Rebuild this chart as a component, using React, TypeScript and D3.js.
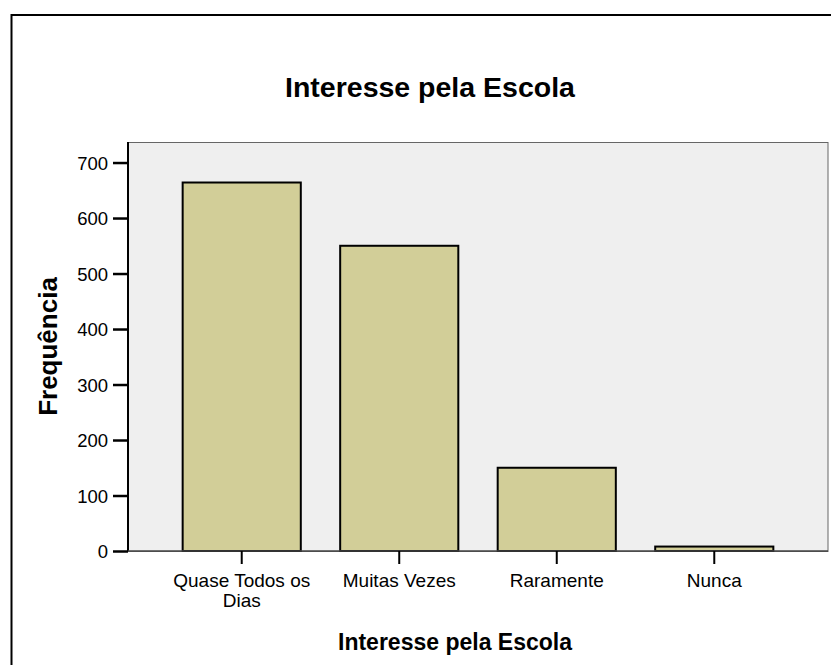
import React, { useRef, useEffect } from 'react';
import * as d3 from 'd3';

// chart data
const categories = ['Quase Todos os Dias', 'Muitas Vezes', 'Raramente', 'Nunca'];
const frequencies = [664, 550, 150, 8];
const yTicks = [0, 100, 200, 300, 400, 500, 600, 700];
const chartTitle = 'Interesse pela Escola';
const xTitle = 'Interesse pela Escola';
const yTitle = 'Frequência';

const FONT = '"Liberation Sans", Arial, Helvetica, sans-serif';

const App: React.FC = () => {
  const svgRef = useRef<SVGSVGElement>(null);
  const width = 831;
  const height = 665;

  useEffect(() => {
    if (!svgRef.current) return;
    const svg = d3.select(svgRef.current);
    svg.selectAll('*').remove();

    const plot = { left: 128, right: 828, top: 142, bottom: 551 };

    const x = d3.scaleBand<string>()
      .domain(categories)
      .range([plot.left, plot.right])
      .paddingInner(0.25)
      .paddingOuter(0.347);

    const y = d3.scaleLinear()
      .domain([0, 737])
      .range([plot.bottom, plot.top]);

    // outer frame (runs off the right and bottom of the picture)
    svg.append('rect')
      .attr('x', 11.5)
      .attr('y', 15)
      .attr('width', 1000)
      .attr('height', 1000)
      .attr('fill', 'none')
      .attr('stroke', '#000')
      .attr('stroke-width', 2);

    // title
    svg.append('text')
      .attr('x', 430)
      .attr('y', 97)
      .attr('text-anchor', 'middle')
      .attr('font-family', FONT)
      .attr('font-weight', 'bold')
      .attr('font-size', 28.5)
      .text(chartTitle);

    // plot background
    svg.append('rect')
      .attr('x', plot.left)
      .attr('y', plot.top + 0.5)
      .attr('width', plot.right - plot.left)
      .attr('height', plot.bottom - plot.top)
      .attr('fill', '#efefef')
      .attr('stroke', '#666')
      .attr('stroke-width', 1);

    // bars
    svg.selectAll('.bar')
      .data(categories)
      .enter()
      .append('rect')
      .attr('class', 'bar')
      .attr('x', d => x(d)!)
      .attr('y', (d, i) => y(frequencies[i]))
      .attr('width', x.bandwidth())
      .attr('height', (d, i) => plot.bottom - y(frequencies[i]))
      .attr('fill', '#d2ce98')
      .attr('stroke', '#000')
      .attr('stroke-width', 2);

    // y axis
    const yAxis = svg.append('g').attr('transform', `translate(${plot.left},0)`)
      .call(d3.axisLeft(y).tickValues(yTicks).tickSize(15).tickPadding(5).tickFormat(d3.format('d')));
    yAxis.select('.domain').attr('stroke', '#000').attr('stroke-width', 2)
      .attr('d', `M0,${plot.top}V${plot.bottom}`);
    yAxis.selectAll('.tick line').attr('stroke', '#000').attr('stroke-width', 2.5);
    yAxis.selectAll('.tick text')
      .attr('font-family', FONT)
      .attr('font-size', 18.5)
      .attr('fill', '#000')
      .attr('dy', '0.36em');

    // x axis
    const xAxis = svg.append('g').attr('transform', `translate(0,${plot.bottom})`)
      .call(d3.axisBottom(x).tickSize(13).tickPadding(5));
    xAxis.select('.domain').attr('stroke', '#444').attr('stroke-width', 1.5)
      .attr('d', `M${plot.left},0H${plot.right}`);
    xAxis.selectAll('.tick line').attr('stroke', '#000').attr('stroke-width', 2);
    xAxis.selectAll<SVGTextElement, string>('.tick text')
      .attr('font-family', FONT)
      .attr('font-size', 19)
      .attr('fill', '#000')
      .attr('y', 0)
      .attr('dy', 0)
      .each(function (d) {
        // wrap long labels onto a second line
        const text = d3.select(this);
        const words = d.split(' ');
        text.text(null);
        let line: string[] = [];
        let lineNo = 0;
        let tspan = text.append('tspan').attr('x', 0).attr('y', 36);
        words.forEach(w => {
          line.push(w);
          tspan.text(line.join(' '));
          if (line.length > 1 && (tspan.node() as SVGTSpanElement).getComputedTextLength() > x.step() - 5) {
            line.pop();
            tspan.text(line.join(' '));
            line = [w];
            lineNo += 1;
            tspan = text.append('tspan').attr('x', 0).attr('y', 36 + lineNo * 20).text(w);
          }
        });
      });

    // axis titles
    svg.append('text')
      .attr('x', 455)
      .attr('y', 650)
      .attr('text-anchor', 'middle')
      .attr('font-family', FONT)
      .attr('font-weight', 'bold')
      .attr('font-size', 23)
      .text(xTitle);

    svg.append('text')
      .attr('transform', `translate(57, ${(plot.top + plot.bottom) / 2}) rotate(-90)`)
      .attr('text-anchor', 'middle')
      .attr('font-family', FONT)
      .attr('font-weight', 'bold')
      .attr('font-size', 26)
      .text(yTitle);
  }, []);

  return (
    <svg
      ref={svgRef}
      width={width}
      height={height}
      style={{ position: 'absolute', left: 0, top: 0, background: '#fff' }}
    />
  );
};

export default App;
